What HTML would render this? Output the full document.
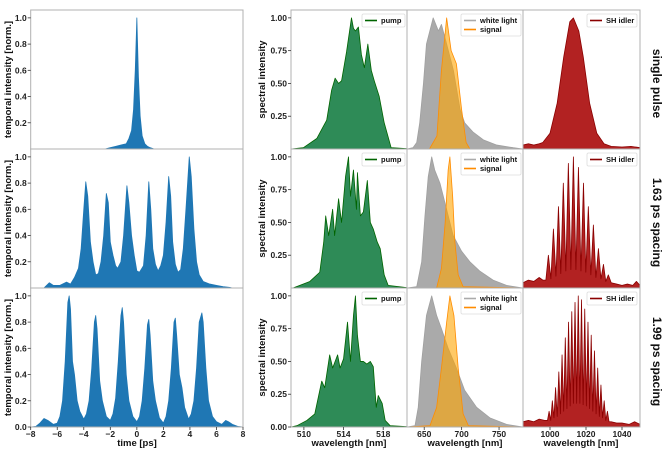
<!DOCTYPE html>
<html><head><meta charset="utf-8">
<style>
body{margin:0;background:#fff;}
svg{display:block;font-family:"Liberation Sans","DejaVu Sans",sans-serif;}
.tk{font-size:8.5px;font-weight:bold;fill:#222;}
.lb{font-size:9.5px;font-weight:bold;fill:#111;}
.lg{font-size:7.5px;font-weight:bold;fill:#111;}
</style></head>
<body>
<svg id="fig" width="665" height="449" viewBox="0 0 665 449"></svg>
<script>
// ---------------- DATA ----------------
const timeTicks = [-8,-6,-4,-2,0,2,4,6,8];
const timeYTicks = [0.2,0.4,0.6,0.8,1.0];
const specYTicks = [0.25,0.5,0.75,1.0];
const pumpTicks = [510,514,518];
const wlTicks = [650,700,750];
const idlerTicks = [1000,1020,1040];
const rowLabels = ["single pulse","1.63 ps spacing","1.99 ps spacing"];

const t1 = [-8,-2.4,-2.0,-1.6,-1.2,-0.8,-0.6,-0.4,-0.25,-0.12,0,0.12,0.25,0.4,0.6,0.8,1.0,1.3,8];
const v1 = [0,0,0.01,0.02,0.03,0.04,0.08,0.14,0.3,0.6,1.0,0.55,0.25,0.1,0.04,0.02,0.01,0,0];

const t2 = [-8,-7.0,-6.9,-6.6,-6.3,-5.8,-5.3,-5.0,-4.7,-4.4,-4.2,-4.0,-3.85,-3.7,-3.5,-3.3,-3.1,-2.9,-2.7,-2.5,-2.3,-2.15,-2.0,-1.8,-1.6,-1.45,-1.2,-1.0,-0.75,-0.6,-0.4,-0.2,0,0.2,0.5,0.7,0.9,1.05,1.2,1.4,1.6,1.8,2.0,2.2,2.4,2.55,2.7,2.9,3.1,3.3,3.5,3.7,3.95,4.1,4.3,4.5,4.7,5.0,5.5,6.0,6.5,7.0,7.2,8];
const v2 = [0,0,0.01,0.04,0.02,0.02,0.045,0.03,0.08,0.15,0.3,0.6,0.81,0.7,0.35,0.2,0.1,0.11,0.2,0.4,0.72,0.65,0.35,0.25,0.17,0.15,0.2,0.4,0.78,0.65,0.4,0.25,0.13,0.12,0.17,0.4,0.81,0.6,0.3,0.18,0.13,0.17,0.25,0.5,0.85,0.7,0.35,0.18,0.12,0.14,0.3,0.6,1.0,0.85,0.45,0.2,0.1,0.05,0.03,0.02,0.01,0.005,0,0];

const t3 = [-8,-7.6,-7.3,-7.0,-6.7,-6.3,-6.0,-5.8,-5.6,-5.4,-5.2,-5.1,-5.0,-4.85,-4.7,-4.5,-4.3,-4.0,-3.8,-3.6,-3.4,-3.2,-3.1,-3.0,-2.8,-2.6,-2.3,-2.0,-1.8,-1.6,-1.4,-1.2,-1.1,-1.0,-0.8,-0.6,-0.3,0,0.2,0.4,0.6,0.8,0.9,1.0,1.2,1.4,1.7,2.0,2.2,2.4,2.6,2.8,2.9,3.0,3.2,3.4,3.6,3.9,4.1,4.3,4.5,4.7,4.9,5.0,5.2,5.4,5.7,6.0,6.4,6.7,6.9,7.2,7.6,8];
const v3 = [0,0.005,0.03,0.065,0.05,0.02,0.03,0.08,0.2,0.5,0.95,1.0,0.9,0.5,0.4,0.2,0.12,0.06,0.1,0.2,0.45,0.8,0.85,0.75,0.35,0.2,0.08,0.05,0.1,0.22,0.5,0.85,0.91,0.8,0.4,0.2,0.08,0.04,0.08,0.2,0.45,0.78,0.82,0.7,0.35,0.2,0.07,0.03,0.08,0.2,0.45,0.8,0.83,0.7,0.4,0.3,0.15,0.06,0.1,0.2,0.45,0.8,0.87,0.8,0.45,0.2,0.08,0.04,0.02,0.05,0.04,0.02,0.005,0];

const pumpNm1 = [508.7,509.95,511.3,512.3,512.8,513.15,513.5,513.8,514.3,514.8,515.0,515.2,515.5,515.8,516.1,516.45,516.8,517.1,517.6,518.1,518.8,520.4];
const pumpV1  = [0,0.01,0.08,0.22,0.45,0.54,0.5,0.52,0.74,1.0,0.92,0.9,0.93,0.72,0.62,0.8,0.6,0.52,0.4,0.2,0.01,0.003];
const pumpNm2 = [508.7,508.9,510.6,511.6,512.0,512.2,512.5,512.9,513.1,513.5,513.8,514.2,514.5,514.7,515.0,515.3,515.4,515.7,516.0,516.4,516.7,517.0,517.4,517.7,518.1,518.5,520.4];
const pumpV2  = [0,0,0.05,0.12,0.35,0.55,0.4,0.6,0.4,0.68,0.5,0.85,1.0,0.7,0.9,0.6,0.88,0.55,0.58,0.82,0.5,0.45,0.35,0.3,0.1,0.02,0.003];
const pumpNm3 = [508.7,509.3,510.3,511.1,511.8,512.1,512.6,512.9,513.4,513.65,514.0,514.4,514.7,515.0,515.2,515.4,515.7,516.0,516.35,516.7,517.0,517.3,517.5,517.9,518.2,518.7,520.4];
const pumpV3  = [0,0.01,0.05,0.1,0.35,0.3,0.55,0.45,0.55,0.45,0.52,0.8,0.5,0.85,1.0,0.7,0.5,0.5,0.48,0.5,0.46,0.15,0.24,0.18,0.05,0.01,0.003];

const wlNm1 = [627,635,640,644,649,653,662,669,673,680,689,698,704,715,729,747,769,782];
const wlV1  = [0,0.01,0.05,0.2,0.5,0.8,1.0,0.9,0.95,0.8,0.6,0.3,0.2,0.13,0.07,0.03,0.01,0];
const sigNm1 = [627,657,667,673,680,686,693,700,706,711,782];
const sigV1  = [0,0,0.1,0.6,1.0,0.75,0.65,0.3,0.05,0,0];
const wlNm2 = [627,640,646.6,651,655.4,660,664,671,677.7,688.7,700,711,724,742,760,782];
const wlV2  = [0,0.01,0.2,0.55,0.85,1.0,0.9,0.8,0.65,0.4,0.28,0.2,0.13,0.06,0.02,0];
const sigNm2 = [627,666.6,673,678,682,684.3,688,691,695.4,702,782];
const sigV2  = [0,0,0.15,0.5,0.9,1.0,0.7,0.35,0.1,0.01,0];
const wlNm3 = [627,637.7,642,646.6,653,660,666.6,673,682,693,704,720,737.7,760,782];
const wlV3  = [0,0.01,0.15,0.5,0.85,1.0,0.85,0.75,0.6,0.45,0.28,0.15,0.07,0.02,0];
const sigNm3 = [627,657.7,666.6,673,680,684.3,689.7,695.4,702,709,782];
const sigV3  = [0,0.01,0.15,0.45,0.8,1.0,0.85,0.45,0.1,0.01,0];

const idNm1 = [985,988,991,994,996,1000,1004,1007.6,1011,1013,1016,1018.5,1022,1026,1030,1034,1040,1045,1050];
const idV1  = [0.03,0.04,0.03,0.04,0.05,0.12,0.35,0.7,0.97,1.0,0.9,0.7,0.35,0.12,0.04,0.02,0.015,0.02,0.01];
const idNm2 = [985,988,991,994,996,997.7,999.1,1000.5,1001.9,1003.3,1004.7,1006.0,1007.4,1008.8,1010.2,1011.6,1013.0,1014.4,1015.8,1017.2,1018.6,1019.9,1021.3,1022.7,1024.1,1025.5,1026.9,1028.3,1029.7,1031.0,1032.4,1034,1037,1040,1043,1046,1048,1050];
const idV2  = [0.04,0.06,0.05,0.08,0.06,0.06,0.25,0.07,0.45,0.09,0.62,0.11,0.8,0.13,0.95,0.14,1.0,0.14,0.92,0.13,0.8,0.12,0.62,0.1,0.48,0.08,0.3,0.07,0.18,0.05,0.1,0.04,0.03,0.02,0.03,0.02,0.05,0.02];
const idNm3 = [985,988,991,994,997,998.6,999.5,1000.4,1001.3,1002.2,1003.1,1004.0,1004.9,1005.8,1006.7,1007.6,1008.5,1009.4,1010.3,1011.2,1012.1,1013.0,1013.9,1014.8,1015.7,1016.6,1017.5,1018.4,1019.3,1020.2,1021.1,1022.0,1022.9,1023.8,1024.7,1025.6,1026.5,1027.4,1028.3,1029.2,1030.1,1031.0,1031.9,1032.8,1034,1037,1040,1044,1047,1050];
const idV3  = [0.04,0.05,0.04,0.06,0.05,0.05,0.12,0.05,0.2,0.07,0.3,0.08,0.42,0.1,0.55,0.12,0.68,0.14,0.8,0.16,0.88,0.18,0.95,0.18,1.0,0.18,0.97,0.17,0.9,0.16,0.8,0.14,0.7,0.12,0.58,0.1,0.45,0.08,0.32,0.07,0.2,0.05,0.12,0.04,0.04,0.03,0.03,0.02,0.04,0.02];

// ---------------- LAYOUT ----------------
const NS = "http://www.w3.org/2000/svg";
const svg = document.getElementById('fig');
function mk(tag, attrs, parent){ const e=document.createElementNS(NS,tag); for(const k in attrs) e.setAttribute(k,attrs[k]); (parent||svg).appendChild(e); return e; }
const rowTop = [10,149,288], rowH = 139, YMAX = 1.06;
function yS(r){ return v => rowTop[r]+rowH - v/YMAX*rowH; }
function xS(x0,x1,d0,d1){ return v => x0 + (v-d0)/(d1-d0)*(x1-x0); }

function area(xs,vs,X,Y,fill,stroke,op,name){
  let d = `M${X(xs[0]).toFixed(2)},${Y(0).toFixed(2)}`;
  for(let i=0;i<xs.length;i++) d += `L${X(xs[i]).toFixed(2)},${Y(vs[i]).toFixed(2)}`;
  d += `L${X(xs[xs.length-1]).toFixed(2)},${Y(0).toFixed(2)}Z`;
  const p = mk('path',{d:d,fill:fill,'fill-opacity':op,stroke:stroke,'stroke-width':0.8,'stroke-linejoin':'round'});
  
  
}
function frame(x0,x1,r,name){
  const f = mk('rect',{x:x0,y:rowTop[r],width:x1-x0,height:rowH,fill:'none',stroke:'#b0b0b0','stroke-width':1});
  
  
}
function yTicks(x0,r,ticks,fmt,showZero){
  const Y=yS(r);
  const all = showZero ? [0].concat(ticks) : ticks;
  all.forEach(v=>{
    mk('line',{x1:x0-3,x2:x0,y1:Y(v),y2:Y(v),stroke:'#333','stroke-width':0.8});
    const t = mk('text',{x:x0-4,y:Y(v)+3,'text-anchor':'end',class:'tk'}); t.textContent=fmt(v);
    
    
  });
}
function xTicks(X,ticks){
  ticks.forEach(v=>{
    mk('line',{x1:X(v),x2:X(v),y1:427,y2:430,stroke:'#333','stroke-width':0.8});
    const t = mk('text',{x:X(v),y:437,'text-anchor':'middle',class:'tk'}); t.textContent=String(v).replace('-','\u2212');
    
    
  });
}
function legend(x,y,w,entries){
  const g = mk('g',{});
  
  
  mk('rect',{x:x,y:y,width:w,height:4+entries.length*9,fill:'#fff',stroke:'#ddd','stroke-width':0.8,rx:1.5},g);
  entries.forEach((e,i)=>{
    const yy = y+6.5+i*9;
    mk('line',{x1:x+3,x2:x+15,y1:yy,y2:yy,stroke:e[1],'stroke-width':1.6},g);
    const t = mk('text',{x:x+19,y:yy+2.7,class:'lg'},g); t.textContent=e[0];
  });
}

// ---------------- TIME COLUMN ----------------
const TX = xS(30.7,243,-8,8);
const tData = [[t1,v1],[t2,v2],[t3,v3]];
for(let r=0;r<3;r++){
  const Y=yS(r);
  area(tData[r][0],tData[r][1],TX,Y,'#1f77b4','#1f77b4',1,'temporal-trace-row'+(r+1));
  frame(30.7,243,r,'time-axes-row'+(r+1));
  yTicks(30.7,r,timeYTicks,v=>v.toFixed(1),r===2);
  const yl = mk('text',{x:0,y:0,'text-anchor':'middle',class:'lb',transform:`translate(11,${rowTop[r]+rowH/2}) rotate(-90)`});
  yl.textContent='temporal intensity [norm.]';
  
  
}
xTicks(TX,timeTicks);
{ const t=mk('text',{x:137,y:446,'text-anchor':'middle',class:'lb'}); t.textContent='time [ps]';
  
   }

// ---------------- SPECTRA ----------------
const PX = xS(291,407,508.7,520.4);
const WX = xS(407,523,627,782);
const IX = xS(523,640,985,1050);
const pumpD=[[pumpNm1,pumpV1],[pumpNm2,pumpV2],[pumpNm3,pumpV3]];
const wlD=[[wlNm1,wlV1],[wlNm2,wlV2],[wlNm3,wlV3]];
const sigD=[[sigNm1,sigV1],[sigNm2,sigV2],[sigNm3,sigV3]];
const idD=[[idNm1,idV1],[idNm2,idV2],[idNm3,idV3]];
for(let r=0;r<3;r++){
  const Y=yS(r);
  area(pumpD[r][0],pumpD[r][1],PX,Y,'#2e8b57','#006400',1,'pump-spectrum-row'+(r+1));
  area(wlD[r][0],wlD[r][1],WX,Y,'#aaaaaa','#a0a0a0',1,'white-light-spectrum-row'+(r+1));
  area(sigD[r][0],sigD[r][1],WX,Y,'#ffa500','#ff8c00',0.6,'signal-spectrum-row'+(r+1));
  area(idD[r][0],idD[r][1],IX,Y,'#b22222','#8b0000',1,'sh-idler-spectrum-row'+(r+1));
  frame(291,407,r,'pump-axes-row'+(r+1));
  frame(407,523,r,'wl-axes-row'+(r+1));
  frame(523,640,r,'idler-axes-row'+(r+1));
  yTicks(291,r,specYTicks,v=>v.toFixed(2),r===2);
  const yl = mk('text',{x:0,y:0,'text-anchor':'middle',class:'lb',transform:`translate(265,${rowTop[r]+rowH/2}) rotate(-90)`});
  yl.textContent='spectral intensity';
  
  
  legend(362,rowTop[r]+4,43,[['pump','#006400']]);
  legend(461,rowTop[r]+4,60,[['white light','#aaaaaa'],['signal','#ff8c00']]);
  legend(587,rowTop[r]+4,50,[['SH idler','#8b0000']]);
  const rl = mk('text',{x:0,y:0,'text-anchor':'middle',transform:`translate(653,${rowTop[r]+rowH/2+4}) rotate(90)`,
    style:'font-size:12px;font-weight:bold;fill:#111'});
  rl.textContent=rowLabels[r];
  
  
}
xTicks(PX,pumpTicks); xTicks(WX,wlTicks); xTicks(IX,idlerTicks);
[[349,'wavelength-title-pump'],[465,'wavelength-title-wl'],[581,'wavelength-title-idler']].forEach(a=>{
  const t=mk('text',{x:a[0],y:446,'text-anchor':'middle',class:'lb'}); t.textContent='wavelength [nm]';
  
  
});
</script>
</body></html>
